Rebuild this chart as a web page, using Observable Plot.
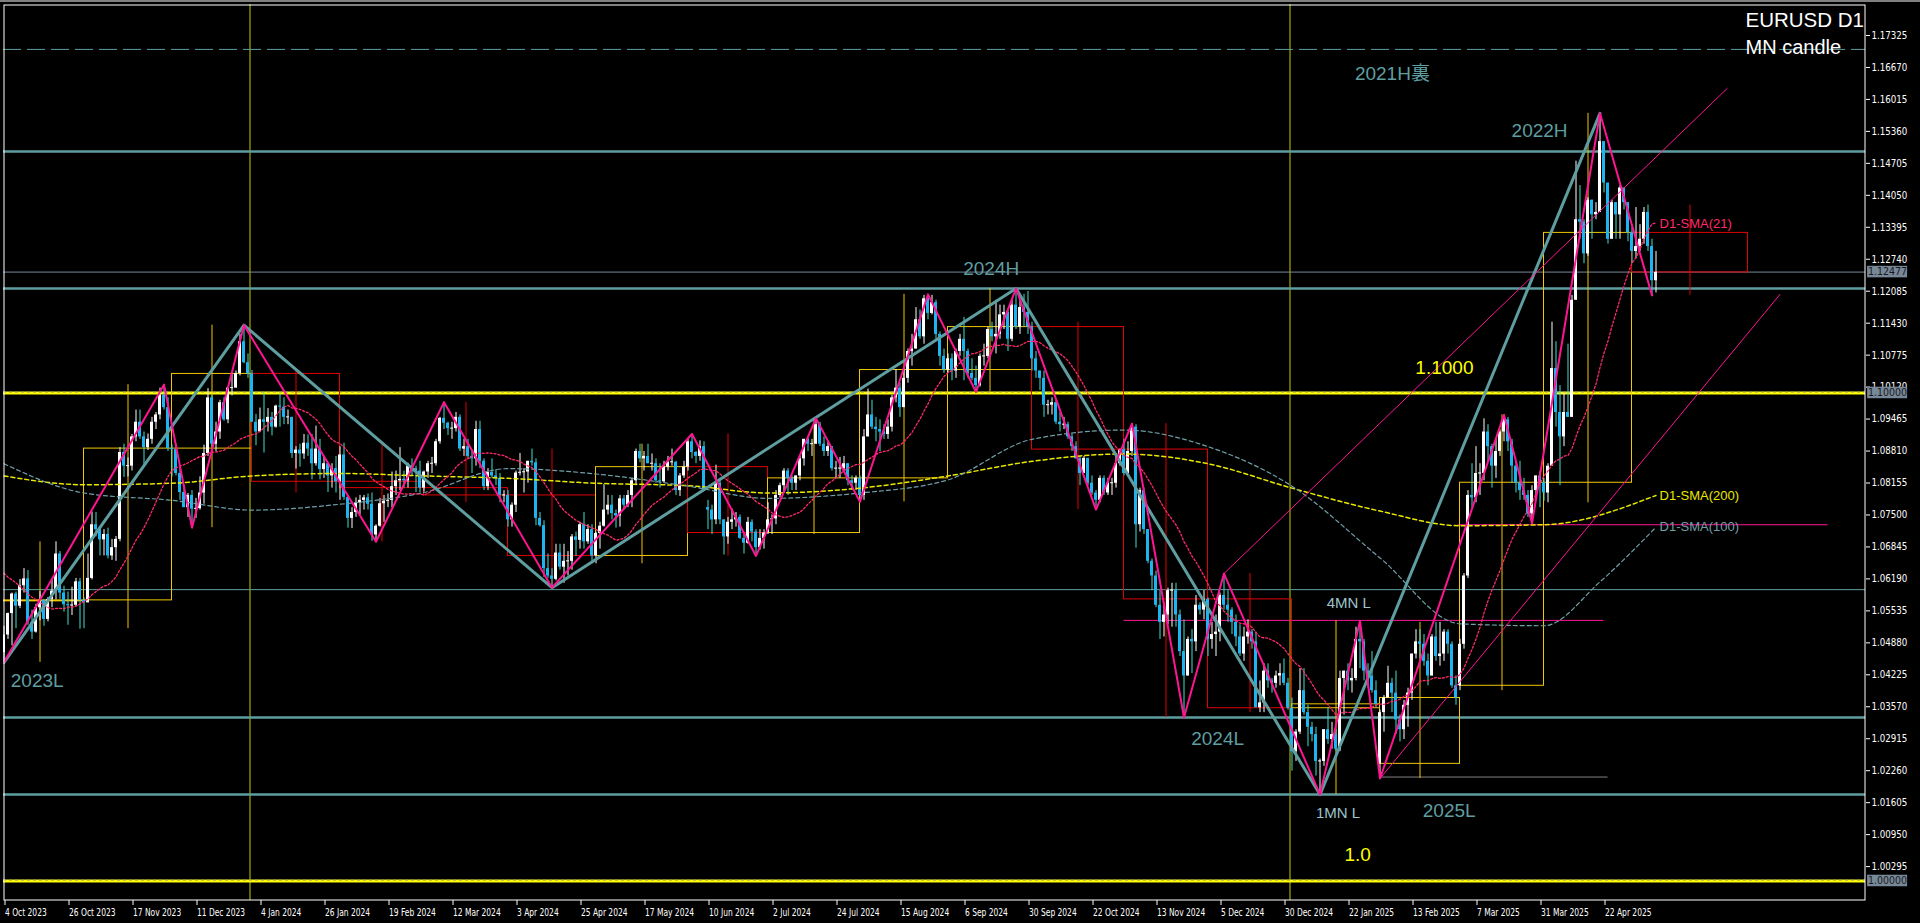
<!DOCTYPE html>
<html><head><meta charset="utf-8">
<script src="https://cdn.jsdelivr.net/npm/d3@7"></script>
<script src="https://cdn.jsdelivr.net/npm/@observablehq/plot@0.6"></script>
<style>
html,body{margin:0;padding:0;background:#000;overflow:hidden}
#wrap{width:1920px;height:923px;border-top:2px solid #808080;box-sizing:border-box;background:#000}
</style></head><body><div id="wrap"></div>
<script>
// ---- values (EURUSD daily, in pips above 1.0000) ----
const preCloses = [725,697,700,750,752,730,643,660,690,680,660,660,645,590,570,505,565,573,477,468];
const cl = [
504,548,588,563,605,619,530,510,560,575,536,577,594,670,590,566,564,565,613,575,
570,620,730,720,699,710,666,683,700,878,850,850,910,940,910,888,905,940,955,995,970,886,
884,835,796,765,790,762,763,795,876,990,895,920,980,945,1010,1010,1040,1105,1062,1039,
940,920,945,940,950,930,973,971,950,950,876,883,875,897,885,855,885,843,855,830,845,818,
873,786,743,755,775,780,785,772,709,727,773,778,780,808,820,823,820,850,845,840,805,
838,855,855,900,948,938,927,927,950,885,890,870,865,925,860,808,837,830,825,790,790,
740,770,836,837,838,860,857,743,728,640,625,618,672,643,655,655,705,698,730,695,720,666,
712,727,760,770,753,748,783,770,790,820,880,865,870,855,855,820,818,848,858,858,800,830,848,
900,878,870,890,800,760,740,815,740,705,735,740,745,702,692,735,715,683,702,713,
740,742,790,810,840,825,815,830,865,905,895,895,935,895,880,890,845,845,845,855,820,815,825,
790,910,955,930,925,920,915,930,990,1010,970,1030,1085,1090,1150,1115,1193,1163,1185,1120,1075,1047,
1070,1045,1085,1110,1085,1040,1030,1015,1075,1075,1130,1115,1120,1160,1165,1110,1180,1135,1175,1165,1135,
1070,1045,1030,975,975,980,940,935,935,910,890,865,835,866,815,795,780,825,795,815,815,855,884,
835,880,930,730,800,720,655,625,565,530,545,595,595,545,470,420,495,490,565,555,577,
495,505,510,585,565,555,530,500,465,500,510,490,355,365,430,410,405,420,425,405,354,
265,305,390,345,315,300,245,245,310,290,300,270,415,430,410,415,495,490,430,420,390,362,
345,375,405,385,330,310,360,385,465,490,485,450,420,500,460,465,510,485,400,375,
485,625,790,785,835,835,920,890,850,880,920,945,900,850,815,800,790,752,800,830,816,
795,850,1050,960,910,960,950,1190,1355,1350,1285,1395,1365,1370,1515,1430,1315,1390,1365,1420,1390,1328,
1290,1300,1315,1370,1300,1230,1247];
const hi = [
522,549,590,592,618,640,636,555,567,593,577,581,619,695,675,604,592,602,620,620,
580,670,756,755,725,720,723,700,706,888,895,867,915,965,965,920,916,950,960,1010,1017,990,
894,895,849,810,794,800,784,828,893,1009,994,940,985,990,1012,1040,1045,1120,1139,1080,
1046,956,969,1000,968,960,975,998,990,965,945,890,895,915,914,915,932,905,870,857,855,870,
890,897,790,765,785,790,790,793,795,730,784,790,793,838,840,888,840,856,865,850,860,
840,860,868,905,950,981,940,940,960,955,905,905,880,942,942,865,845,865,843,835,800,
800,775,840,876,845,860,885,865,755,738,670,640,690,690,690,675,710,715,735,755,730,730,
715,735,812,790,790,760,790,790,800,825,885,895,880,895,875,865,855,860,870,885,860,835,860,
905,916,880,902,900,780,770,852,825,740,745,762,755,750,710,745,740,720,720,720,
775,750,800,815,845,845,830,830,870,905,910,905,948,940,910,900,890,860,868,870,855,830,830,
830,925,1008,985,950,945,935,945,995,1048,1020,1050,1090,1120,1175,1170,1200,1202,1200,1190,1125,1090,
1080,1080,1090,1120,1155,1090,1070,1055,1080,1100,1135,1145,1190,1180,1180,1170,1190,1214,1190,1202,1208,
1145,1085,1045,1045,985,990,985,960,950,940,915,900,870,870,865,830,800,830,830,825,825,870,885,
905,900,937,935,805,805,720,660,635,595,570,600,610,610,555,535,500,515,585,570,595,
580,530,545,590,630,595,560,545,525,520,535,515,510,410,445,445,415,430,445,455,415,
375,310,435,435,360,325,315,250,310,355,325,310,430,430,445,435,520,533,495,445,470,410,
350,380,440,415,430,340,370,395,465,515,515,505,465,505,530,530,515,515,490,420,
495,630,800,855,890,855,947,935,895,905,925,955,950,905,860,860,825,800,810,830,840,
825,855,1145,1105,1015,1000,1100,1200,1475,1425,1355,1400,1395,1390,1573,1515,1425,1395,1390,1425,1410,1380,
1340,1380,1345,1380,1385,1315,1290];
const lo = [
448,495,482,517,558,590,524,495,508,533,522,531,560,576,577,551,524,544,562,516,
517,570,617,705,666,666,660,657,655,695,827,828,840,900,905,852,882,895,925,945,965,880,
828,830,780,765,745,724,743,760,772,870,888,880,905,942,937,994,1010,1035,1060,1030,
940,892,925,877,920,912,928,930,935,935,866,844,848,864,870,822,850,822,825,796,805,795,
780,780,723,722,745,750,760,760,696,695,725,735,765,765,790,800,805,805,830,796,795,
797,825,835,850,895,925,913,905,920,880,870,865,835,850,845,800,800,825,810,775,775,
725,725,755,830,795,815,850,728,725,622,620,601,615,637,610,625,637,665,680,680,690,650,
650,680,725,750,740,723,725,760,765,765,810,857,840,855,840,815,805,815,840,850,790,788,825,
840,865,855,860,800,720,710,730,730,668,690,720,725,700,670,690,695,666,678,680,
710,710,730,785,795,790,800,800,820,850,880,870,895,890,870,870,840,825,825,840,810,800,800,
777,780,910,925,900,880,905,905,920,980,950,970,1020,1055,1090,1110,1100,1150,1160,1110,1055,1040,
1040,1025,1030,1075,1025,1030,1025,1002,1012,1055,1070,1105,1080,1110,1130,1085,1105,1130,1120,1135,1120,
1045,1030,1005,950,955,955,935,920,925,905,880,865,810,835,810,790,761,775,790,790,790,805,850,
830,860,870,682,715,710,650,595,560,495,500,525,520,520,460,335,425,425,470,545,535,
460,475,460,490,555,530,505,480,460,450,485,475,355,345,345,395,385,395,400,400,350,
225,245,300,340,275,285,215,177,235,280,270,265,265,340,390,385,410,435,410,395,385,355,
210,305,375,345,300,285,290,315,370,455,455,440,400,420,450,440,450,465,395,360,
390,475,620,765,775,790,820,860,805,825,870,900,880,815,795,780,780,745,733,780,765,
778,775,850,930,810,890,950,950,1195,1315,1265,1280,1315,1355,1370,1410,1305,1320,1315,1315,1375,1310,
1265,1275,1290,1305,1290,1200,1205];
const gapOpens = {176: 765, 344: 240, 364: 400};

// monthly (MN) candles: first bar, next month's first bar, O H L C
const mStart = [-2,20,42,62,84,105,126,148,171,191,214,236,257,280,301,322,344,364,385,407];
const mEnd   = [20,42,62,84,105,126,148,171,191,214,236,257,280,301,322,344,364,385,407,436];
const mOpen  = [573,575,886,1039,818,805,790,666,848,713,825,1047,1135,884,577,354,240,400,816,1328];
const mHigh  = [695,1017,1139,1046,897,981,885,895,916,948,1202,1214,1145,937,630,533,530,955,1573,1385];
const mLow   = [448,517,724,795,695,775,601,650,666,710,777,1002,761,335,345,177,210,390,775,1200];
const mClose = [575,886,1039,818,805,790,666,848,713,825,1047,1135,884,577,354,362,375,816,1328,1247];

// moving averages (bar index, pips)
const sma200Idx = [0,20,42,62,84,105,126,148,171,191,214,236,257,280,301,322,344,364,385,413];
const sma200Val = [830,812,815,830,835,830,825,815,810,795,805,830,860,875,855,805,758,728,730,790];
const sma100Idx = [0,20,42,62,84,105,126,148,171,191,214,236,257,280,301,322,344,364,385,399,413];
const sma100Val = [855,795,780,760,772,796,845,834,809,784,795,822,905,924,890,809,662,527,523,613,725];

// zigzags and channel lines (bar index, pips)
const pinkZZ = [[0,448],[40,1017],[47,724],[60,1139],[93,695],[110,981],[137,601],[172,916],[188,666],[203,948],[214,777],[231,1202],[243,1002],[253,1214],[273,761],[282,937],[295,335],[305,630],[329,177],[339,533],[344,210],[375,955],[382,733],[399,1573],[412,1200]];
const tealZZ = [[0,448],[60,1139],[137,601],[253,1214],[329,177],[399,1573]];
const channelUp = [[305,630],[430.8,1624]];
const channelLow = [[344,210],[444,1202]];

// horizontal levels (pips)
const tealThickLevels = [1495,1214,335,177];
const tealThinLevels = [597];
const tealDashLevels = [1704];
const yellowLevels = [1000,0];
const bidPrice = 1.12477;
const shortLines = [{p:534,x1:280,x2:400,c:"#ff1493"},{p:730,x1:363.5,x2:456,c:"#ff1493"},{p:213,x1:344,x2:401,c:"#808080"}];
const yearSeparators = [61.5,321.5];

const xTickIdx = [0,16,32,48,64,80,96,112,128,144,160,176,192,208,224,240,256,272,288,304,320,336,352,368,384,400];
const xTickLabels = ["4 Oct 2023","26 Oct 2023","17 Nov 2023","11 Dec 2023","4 Jan 2024","26 Jan 2024","19 Feb 2024","12 Mar 2024","3 Apr 2024","25 Apr 2024","17 May 2024","10 Jun 2024","2 Jul 2024","24 Jul 2024","15 Aug 2024","6 Sep 2024","30 Sep 2024","22 Oct 2024","13 Nov 2024","5 Dec 2024","30 Dec 2024","22 Jan 2025","13 Feb 2025","7 Mar 2025","31 Mar 2025","22 Apr 2025"];
const yTickValues = [1.17325,1.16670,1.16015,1.15360,1.14705,1.14050,1.13395,1.12740,1.12085,1.11430,1.10775,1.10120,1.09465,1.08810,1.08155,1.07500,1.06845,1.06190,1.05535,1.04880,1.04225,1.03570,1.02915,1.02260,1.01605,1.00950,1.00295];

const tealLabels = [{t:"2021H裏",i:347.1,p:1.1654},{t:"2022H",i:383.9,p:1.1538},{t:"2024H",i:246.8,p:1.1255},{t:"2023L",i:8.3,p:1.0409},{t:"2024L",i:303.4,p:1.0291},{t:"2025L",i:361.3,p:1.0143}];
const yellowLabels = [{t:"1.1000",i:360.1,p:1.1051},{t:"1.0",i:338.4,p:1.0053}];
const smallLabels = [{t:"4MN L",i:336.2,p:1.0570},{t:"1MN L",i:333.5,p:1.0138}];
const smaLabels = [{t:"D1-SMA(21)",i:413.9,p:1.1347,c:"#ff2a68"},{t:"D1-SMA(200)",i:413.9,p:1.0790,c:"#e8e800"},{t:"D1-SMA(100)",i:413.9,p:1.0725,c:"#6f9fa8"}];
const priceTags = [{p:1.12477,t:"1.12477"},{p:1.10,t:"1.10000"},{p:1.00,t:"1.00000"}];

// ---- build ----
const P = v => 1 + v / 10000;
const candles = cl.map((c, i) => {
  const o = gapOpens[i] !== undefined ? gapOpens[i] : (i === 0 ? preCloses[preCloses.length - 1] : cl[i - 1]);
  const h = Math.max(hi[i], o, c), l = Math.min(lo[i], o, c);
  let b1 = P(Math.min(o, c)), b2 = P(Math.max(o, c));
  if (b2 - b1 < 0.0002) { const m = (b1 + b2) / 2; b1 = m - 0.0001; b2 = m + 0.0001; }
  return {i, h: P(h), l: P(l), b1, b2, up: c >= o};
});
const allC = preCloses.concat(cl);
const sma21 = cl.map((c, i) => { const j = i + preCloses.length; return {i, v: P(d3.mean(allC.slice(j - 20, j + 1)))}; });
const sma200 = sma200Idx.map((i, k) => ({i, v: P(sma200Val[k])}));
const sma100 = sma100Idx.map((i, k) => ({i, v: P(sma100Val[k])}));
const months = mStart.map((s, k) => ({s, e: mEnd[k], o: P(mOpen[k]), h: P(mHigh[k]), l: P(mLow[k]), c: P(mClose[k]), col: mClose[k] >= mOpen[k] ? "#f2c600" : "#e00000"}));
const pts = a => a.map(([i, v]) => ({i, v: P(v)}));

const NARROW = "'Liberation Sans Narrow','Arial Narrow','DejaVu Sans Condensed',sans-serif";
const ARIAL = "'Liberation Sans',Arial,'Noto Sans CJK JP',sans-serif";
const TEAL = "#5f9ea0";

const chart = Plot.plot({
  width: 1920, height: 921,
  marginTop: 2, marginBottom: 23, marginLeft: 3, marginRight: 55,
  x: {domain: [-0.125, 465.375], label: null},
  y: {domain: [0.99600, 1.179602], label: null},
  color: {type: "identity"},
  style: {background: "#000", color: "#fff", fontFamily: NARROW, fontSize: "10.5px"},
  marks: [
    Plot.ruleX(yearSeparators, {x: d => d, stroke: "#c8c800", strokeWidth: 1}),
    Plot.ruleY(tealDashLevels, {y: d => P(d), stroke: TEAL, strokeWidth: 1, strokeDasharray: "18,6"}),
    Plot.ruleY(tealThinLevels, {y: d => P(d), stroke: TEAL, strokeWidth: 1}),
    Plot.ruleY(tealThickLevels, {y: d => P(d), stroke: TEAL, strokeWidth: 2.5}),
    Plot.ruleY([bidPrice], {y: d => d, stroke: "#778899", strokeWidth: 1}),
    Plot.ruleY(yellowLevels, {y: d => P(d), stroke: "#ffff00", strokeWidth: 3}),
    Plot.ruleY(yellowLevels, {y: d => P(d), stroke: "#8a8a8a", strokeWidth: 1, strokeDasharray: "3,3", dy: -1}),
    Plot.ruleY(shortLines, {y: d => P(d.p), x1: "x1", x2: "x2", stroke: "c", strokeWidth: 1}),
    // monthly candle overlay
    Plot.ruleX(months, {x: d => (d.s + d.e) / 2, y1: "l", y2: "h", stroke: "col", strokeWidth: 1, clip: true}),
    Plot.rect(months, {x1: "s", x2: "e", y1: d => Math.min(d.o, d.c), y2: d => Math.max(d.o, d.c), fill: "none", stroke: "col", strokeWidth: 1, clip: true}),
    // daily candles
    Plot.ruleX(candles, {x: "i", y1: "l", y2: "h", stroke: d => d.up ? "#ffffff" : "#40e0d0", strokeWidth: 1, clip: true}),
    Plot.rect(candles, {x1: d => d.i - 0.375, x2: d => d.i + 0.375, y1: "b1", y2: "b2", fill: d => d.up ? "#ffffff" : "#1eb4f0", clip: true}),
    // moving averages
    Plot.line(sma200, {x: "i", y: "v", stroke: "#e8e800", strokeWidth: 1.5, strokeDasharray: "4,3", curve: "monotone-x", clip: true}),
    Plot.line(sma100, {x: "i", y: "v", stroke: "#6f9fa8", strokeWidth: 1.2, strokeDasharray: "4,3", curve: "monotone-x", clip: true}),
    Plot.line(sma21, {x: "i", y: "v", stroke: "#ff2a68", strokeWidth: 1.3, strokeDasharray: "2,2", clip: true}),
    // zigzags & channel
    Plot.line(pts(tealZZ), {x: "i", y: "v", stroke: TEAL, strokeWidth: 3, clip: true}),
    Plot.line(pts(pinkZZ), {x: "i", y: "v", stroke: "#ff1493", strokeWidth: 2, clip: true}),
    Plot.line(pts(channelUp), {x: "i", y: "v", stroke: "#ff1493", strokeWidth: 1, clip: true}),
    Plot.line(pts(channelLow), {x: "i", y: "v", stroke: "#ff1493", strokeWidth: 1, clip: true}),
    // annotations
    Plot.text(tealLabels, {x: "i", y: "p", text: "t", fill: TEAL, fontSize: 19, fontFamily: ARIAL, textAnchor: "middle"}),
    Plot.text(yellowLabels, {x: "i", y: "p", text: "t", fill: "#ffff00", fontSize: 19, fontFamily: ARIAL, textAnchor: "middle"}),
    Plot.text(smallLabels, {x: "i", y: "p", text: "t", fill: "#9ec3cc", fontSize: 15, fontFamily: ARIAL, textAnchor: "middle"}),
    Plot.text(smaLabels, {x: "i", y: "p", text: "t", fill: "c", fontSize: 13, fontFamily: ARIAL, textAnchor: "start"}),
    Plot.text(["EURUSD D1"], {text: d => d, frameAnchor: "top-right", dx: -120, dy: 15.5, textAnchor: "start", lineAnchor: "middle", fill: "#fff", fontSize: 20.5, fontFamily: ARIAL}),
    Plot.text(["MN candle"], {text: d => d, frameAnchor: "top-right", dx: -120, dy: 43, textAnchor: "start", lineAnchor: "middle", fill: "#fff", fontSize: 20, fontFamily: ARIAL}),
    Plot.frame({stroke: "#ffffff", inset: 0.5}),
    Plot.axisX({ticks: xTickIdx, tickFormat: d => xTickLabels[xTickIdx.indexOf(d)], textAnchor: "start", dx: 1, tickSize: 5, tickPadding: 3, color: "#fff", fontSize: 11}),
    Plot.axisY({anchor: "right", ticks: yTickValues, tickFormat: d => d.toFixed(5), tickSize: 4, tickPadding: 2, color: "#fff", fontSize: 10.5}),
    Plot.rect(priceTags, {x1: () => 465.9, x2: () => 475.9, y1: d => d.p - 0.00118, y2: d => d.p + 0.00118, fill: "#778899"}),
    Plot.text(priceTags, {x: () => 470.9, y: "p", text: "t", fill: "#1a1a1a", textAnchor: "middle", fontSize: 10.5})
  ]
});
document.getElementById("wrap").appendChild(chart);

// condense axis labels to the narrow terminal font width
function condense(sel, ratio) {
  d3.select(chart).selectAll(sel).each(function () {
    const w = this.getComputedTextLength();
    if (w > 0) { this.setAttribute("textLength", (w * ratio).toFixed(1)); this.setAttribute("lengthAdjust", "spacingAndGlyphs"); }
  });
}
condense('g[aria-label="x-axis tick label"] text', 0.76);
condense('g[aria-label="y-axis tick label"] text', 0.92);
</script></body></html>
